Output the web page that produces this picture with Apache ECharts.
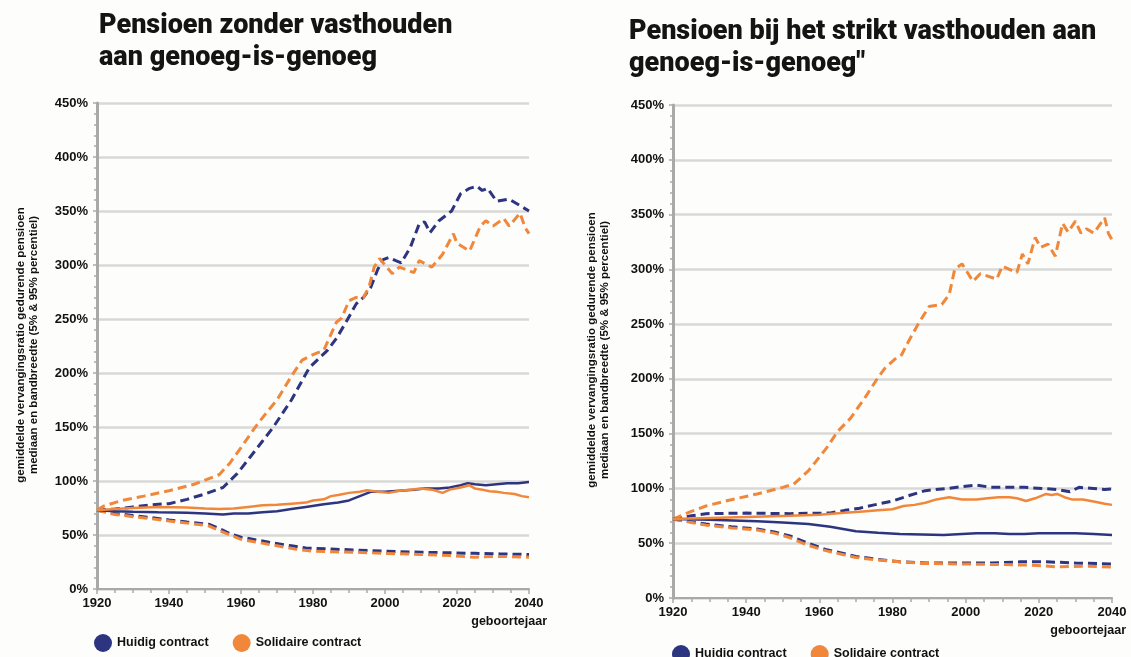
<!DOCTYPE html>
<html>
<head>
<meta charset="utf-8">
<script src="https://cdn.jsdelivr.net/npm/echarts@6/dist/echarts.min.js"></script>
<style>html,body{margin:0;padding:0;background:#fff;}#c{width:1131px;height:657px;}</style>
</head>
<body>
<div id="c"></div>
<script>
// ---------- DATA ----------
const titles = ['Pensioen zonder vasthouden\naan genoeg-is-genoeg', 'Pensioen bij het strikt vasthouden aan\ngenoeg-is-genoeg"'];
const yAxisName = 'gemiddelde vervangingsratio gedurende pensioen\nmediaan en bandbreedte (5% & 95% percentiel)';
const xAxisName = 'geboortejaar';
const seriesNames = ['Huidig contract', 'Solidaire contract'];
const xTicks = [1920, 1940, 1960, 1980, 2000, 2020, 2040];
const yTicks = [0, 50, 100, 150, 200, 250, 300, 350, 400, 450];

// Left chart: zonder vasthouden
const leftHuidigMedian = [[1920,73],[1925,72],[1930,71.5],[1937,71],[1945,70.5],[1950,70],[1955,69],[1958,70],[1962,70],[1966,71],[1970,72],[1974,74],[1978,76],[1983,78.5],[1987,80],[1990,82],[1993,86],[1996,90],[2000,90],[2004,91],[2008,92],[2011,93],[2015,93],[2018,94],[2021,96],[2023,98],[2025,97],[2028,96],[2031,97],[2034,98],[2037,98],[2040,99]];
const leftHuidigHigh = [[1920,73],[1925,74],[1930,76],[1935,78],[1940,79],[1945,83],[1950,88],[1955,94],[1959,107],[1962.5,122],[1966,137],[1969,150],[1974,175],[1979,205],[1984,221],[1986.5,232],[1989.5,249],[1992,264],[1994,270],[1996,279],[1998,296],[1999.5,305],[2001,307],[2003,304],[2004.5,302],[2007,316],[2009.5,338],[2011,340],[2012.5,330],[2015,341],[2018.5,350],[2021,366],[2023.5,371],[2025.5,373],[2027,369],[2028.5,371],[2031,359],[2034.5,361],[2037.5,355],[2040,350]];
const leftHuidigLow = [[1920,73],[1925,70],[1930,68],[1934,66.5],[1940,64],[1945,62],[1951,60],[1954,56],[1957,51],[1960,48],[1965,45],[1969,42.5],[1974,40],[1978,38],[1985,37],[1992,36],[2000,35],[2010,34],[2018,33.5],[2025,33],[2032,32.5],[2040,32]];
const leftSolidairMedian = [[1920,73],[1925,74],[1930,75],[1937,76],[1945,75.5],[1950,74.5],[1954,74],[1958,74.5],[1962,76],[1966,77.5],[1970,78],[1974,79],[1978,80],[1980,82],[1983,83],[1985,86],[1987,87],[1990,89],[1993,90],[1995,91.5],[1998,90],[2001,89],[2004,91],[2007,92],[2010,93],[2013,92],[2016,89],[2018,92],[2021,94],[2023.5,96],[2025,93],[2027,92],[2029,90.5],[2031,90],[2033,89],[2036,88],[2038,86],[2040,85]];
const leftSolidairHigh = [[1920,73],[1922,77],[1927,82],[1933,86],[1940,91],[1947,97],[1954,106],[1957,117],[1960,131],[1964,150],[1967,163],[1970,175],[1974,197],[1977,212],[1980,217],[1983,221],[1986.5,247],[1988,251],[1990,267],[1992,270],[1994,270],[1995.5,279],[1997,298],[1998.5,306],[2002,292],[2004,298],[2008,293],[2009.5,304],[2013,298],[2016,310],[2019,329],[2020,320],[2023.5,313],[2026.5,336],[2028,341],[2030,336],[2033,343],[2034.5,336],[2037.5,348],[2039,334],[2040,329]];
const leftSolidairLow = [[1920,73],[1925,69],[1930,67],[1934,65.5],[1940,63],[1945,61],[1951,58.5],[1954,54],[1957,50],[1960,46],[1965,43],[1970,40],[1975,37],[1980,35],[1985,34.5],[1992,34],[2000,33],[2010,32],[2018,31],[2022,30],[2025,29.5],[2030,30],[2035,30],[2040,29.5]];

// Right chart: strikt vasthouden
const rightHuidigMedian = [[1920,72],[1930,71.5],[1943,70],[1950,69],[1957,67.5],[1963,65],[1970,61],[1976,59.5],[1982,58.4],[1988,58],[1994,57.5],[1999,58.5],[2003,59],[2008,59],[2012,58.5],[2016,58.5],[2020,59],[2025,59],[2030,59],[2035,58.5],[2040,57.5]];
const rightHuidigHigh = [[1920,72],[1925,75],[1929,77],[1940,77.5],[1952,77],[1963,77.6],[1967,80],[1971,82],[1975,85],[1980,88.5],[1985,94],[1989,98],[1995,100],[2000,102],[2003,103],[2007,101],[2012,101],[2016,101],[2021,100],[2025,99],[2028.5,97],[2031,101],[2035,100],[2038,99],[2040,99.5]];
const rightHuidigLow = [[1920,72],[1929,67.5],[1936,65],[1943,63],[1948,60],[1952,56.6],[1957,50],[1962,44],[1966,41],[1970,38],[1975,35.6],[1982,33],[1989,32],[1998,32],[2007,32],[2015,33],[2022,33],[2030,32],[2040,31]];
const rightSolidairMedian = [[1920,72],[1930,73],[1940,74],[1952,75],[1960,76],[1966,77.5],[1972,79],[1976,80],[1980,81],[1983,84],[1986,85],[1989,87],[1992,90],[1995.5,92],[1999,90],[2003,90],[2006,91],[2009,92],[2012,92],[2014,91],[2016.5,88.5],[2019,91],[2022,95],[2023.5,94],[2025,95],[2027,92],[2029,90],[2032,90],[2035,88],[2038,86],[2040,85]];
const rightSolidairHigh = [[1920,72],[1925,79],[1929,84],[1935,89],[1943,95],[1950,101],[1953,104],[1957,116],[1962,137],[1965,152],[1968.5,164],[1972.5,183],[1976,201],[1978,210],[1981,219],[1982.5,222],[1984,232],[1987,250],[1990,266],[1993.5,268],[1995.5,277],[1997,300],[1999,305],[2002,289],[2004,296],[2008.5,291],[2010,303],[2014,297],[2015.5,314],[2017,305],[2019,329],[2020.5,320],[2022.5,323],[2024.5,312],[2026.5,342],[2028,334],[2030,344],[2031.5,333],[2033,337],[2035,333],[2038,347],[2039,333],[2040,327]];
const rightSolidairLow = [[1920,72],[1929,66.5],[1936,64],[1943,62],[1948,59],[1952,55],[1957,48],[1962,43],[1966,40],[1970,37],[1975,35],[1982,33],[1989,31.5],[2000,31],[2010,30.5],[2018,30],[2025,28.5],[2032,29],[2040,28.3]];

// ---------- STYLE ----------
const NAVY = '#2d3480';
const ORANGE = '#f0873a';
const FONT = '"Liberation Sans", Arial, sans-serif';
const TITLE_FONT = 'Roboto, "Open Sans", sans-serif';

function line(name, data, color, dashed, idx) {
  return {
    name: name, type: 'line', data: data, xAxisIndex: idx, yAxisIndex: idx,
    symbol: 'none', smooth: false, animation: false, color: color,
    itemStyle: {color: color},
    lineStyle: {color: color, width: dashed ? 3 : 2.5, type: dashed ? [9, 5] : 'solid'},
    z: dashed ? 3 : 4
  };
}

function xAxis(idx) {
  return {
    type: 'value', gridIndex: idx, min: xTicks[0], max: xTicks[xTicks.length - 1], interval: 20,
    axisLine: {show: true, lineStyle: {color: '#a9a9a9', width: 2}},
    axisTick: {show: true, length: 5, lineStyle: {color: '#a9a9a9', width: 1.5}},
    minorTick: {show: true, splitNumber: 4, length: 4, lineStyle: {color: '#a9a9a9', width: 1.5}},
    splitLine: {show: false},
    axisLabel: {color: '#111', fontFamily: FONT, fontWeight: 'bold', fontSize: 13, margin: 8,
                formatter: function (v) { return String(v); }}
  };
}
function yAxis(idx) {
  return {
    type: 'value', gridIndex: idx, min: yTicks[0], max: yTicks[yTicks.length - 1], interval: 50,
    axisLine: {show: true, lineStyle: {color: '#a9a9a9', width: 3}},
    axisTick: {show: true, length: 4, lineStyle: {color: '#a9a9a9', width: 1.5}},
    minorTick: {show: true, splitNumber: 5, length: 3, lineStyle: {color: '#a9a9a9', width: 1.5}},
    splitLine: {show: true, lineStyle: {color: '#d8d8d8', width: 2.5}},
    axisLabel: {color: '#111', fontFamily: FONT, fontWeight: 'bold', fontSize: 13, margin: 9, formatter: '{value}%'}
  };
}

const chart = echarts.init(document.getElementById('c'), null, {renderer: 'canvas'});
const option = {
  backgroundColor: '#fdfdfc',
  animation: false,
  grid: [
    {left: 97, top: 103, width: 432, height: 486},
    {left: 673, top: 105, width: 439, height: 493}
  ],
  xAxis: [xAxis(0), xAxis(1)],
  yAxis: [yAxis(0), yAxis(1)],
  legend: [
    {data: seriesNames, left: 94, top: 634, padding: 0, icon: 'circle', itemWidth: 18, itemHeight: 18, itemGap: 24,
     textStyle: {fontFamily: FONT, fontWeight: 'bold', fontSize: 12.5, color: '#111'}},
    {data: seriesNames, left: 672, top: 645, padding: 0, icon: 'circle', itemWidth: 18, itemHeight: 18, itemGap: 24,
     textStyle: {fontFamily: FONT, fontWeight: 'bold', fontSize: 12.5, color: '#111'}}
  ],
  graphic: [
    {type: 'text', left: 99, top: 10, style: {text: titles[0], font: '900 27px ' + TITLE_FONT, fill: '#141414', lineHeight: 32}},
    {type: 'text', left: 629, top: 16, style: {text: titles[1], font: '900 27px ' + TITLE_FONT, fill: '#141414', lineHeight: 32}},
    {type: 'text', x: 27, y: 345, rotation: Math.PI / 2,
     style: {text: yAxisName, font: 'bold 11.5px ' + FONT, fill: '#111', align: 'center', verticalAlign: 'middle', lineHeight: 13}},
    {type: 'text', x: 598, y: 350, rotation: Math.PI / 2,
     style: {text: yAxisName, font: 'bold 11.5px ' + FONT, fill: '#111', align: 'center', verticalAlign: 'middle', lineHeight: 13}},
    {type: 'text', x: 547, y: 622, style: {text: xAxisName, font: 'bold 12.5px ' + FONT, fill: '#111', align: 'right', verticalAlign: 'middle'}},
    {type: 'text', x: 1126, y: 631, style: {text: xAxisName, font: 'bold 12.5px ' + FONT, fill: '#111', align: 'right', verticalAlign: 'middle'}}
  ],
  series: [
    line(seriesNames[0], leftHuidigHigh, NAVY, true, 0),
    line(seriesNames[0], leftHuidigLow, NAVY, true, 0),
    line(seriesNames[0], leftHuidigMedian, NAVY, false, 0),
    line(seriesNames[1], leftSolidairHigh, ORANGE, true, 0),
    line(seriesNames[1], leftSolidairLow, ORANGE, true, 0),
    line(seriesNames[1], leftSolidairMedian, ORANGE, false, 0),
    line(seriesNames[0], rightHuidigHigh, NAVY, true, 1),
    line(seriesNames[0], rightHuidigLow, NAVY, true, 1),
    line(seriesNames[0], rightHuidigMedian, NAVY, false, 1),
    line(seriesNames[1], rightSolidairHigh, ORANGE, true, 1),
    line(seriesNames[1], rightSolidairLow, ORANGE, true, 1),
    line(seriesNames[1], rightSolidairMedian, ORANGE, false, 1)
  ]
};
chart.setOption(option);
</script>
</body>
</html>
